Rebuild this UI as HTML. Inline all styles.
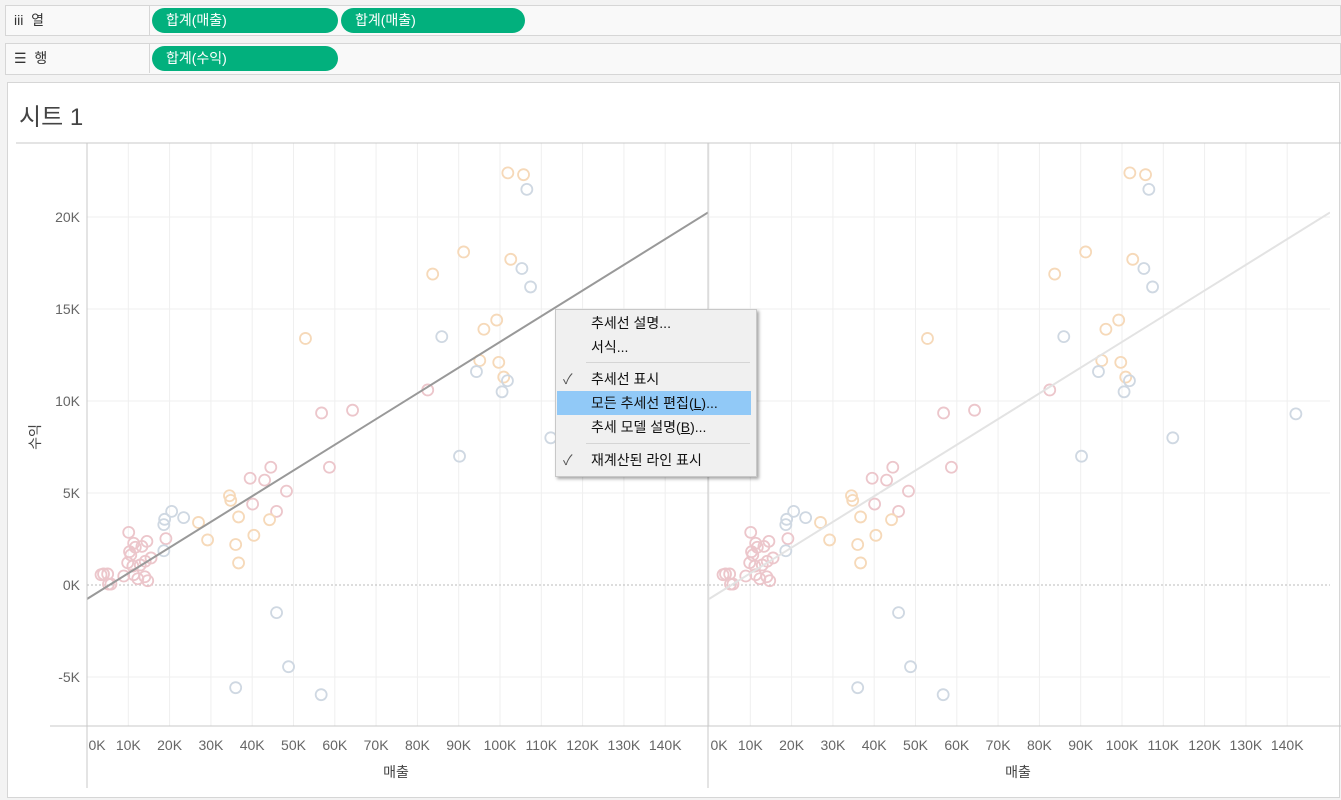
<!DOCTYPE html>
<html><head><meta charset="utf-8">
<style>
body{margin:0;width:1341px;height:800px;background:#f3f3f3;font-family:"Liberation Sans","Noto Sans CJK KR",sans-serif;position:relative;overflow:hidden}
.shelf{position:absolute;left:5px;width:1336px;height:31px;background:#f9f9f9;border:1px solid #d6d6d6;box-sizing:border-box}
.shelf .lbl{position:absolute;left:0;top:0;width:144px;height:29px;border-right:1px solid #d6d6d6;font-size:14px;color:#333;line-height:29px;padding-left:8px;box-sizing:border-box}
.pill{position:absolute;top:2px;height:25px;border-radius:13px;background:#02b07d;color:#fff;font-size:14px;line-height:24px;padding-left:14px;box-sizing:border-box}
#sheet{position:absolute;left:7px;top:82px;width:1333px;height:716px;background:#fff;border:1px solid #d6d6d6;box-sizing:border-box}
#title{position:absolute;left:19px;top:97px;font-size:24px;color:#444}
#menu{position:absolute;left:555px;top:309px;width:200px;height:166px;background:#f0f0f0;border:1px solid #c8c8c8;box-shadow:2px 2px 3px rgba(0,0,0,.35);font-size:14px;color:#111}
#menu .it{position:absolute;left:1px;width:194px;height:24px;line-height:24px;padding-left:34px;box-sizing:border-box}
#menu .chk{position:absolute;left:6px;color:#555}
#menu .sep{position:absolute;left:30px;width:164px;height:1px;background:#d5d5d5}
</style></head><body>
<div class="shelf" style="top:5px">
 <div class="lbl">iii&nbsp; 열</div>
 <div class="pill" style="left:146px;width:186px">합계(매출)</div>
 <div class="pill" style="left:335px;width:184px">합계(매출)</div>
</div>
<div class="shelf" style="top:43px;height:32px">
 <div class="lbl">☰&nbsp; 행</div>
 <div class="pill" style="left:146px;width:186px">합계(수익)</div>
</div>
<div id="sheet"></div>
<div id="title">시트 1</div>
<svg id="chart" width="1341" height="800" style="position:absolute;left:0;top:0"></svg>
<div id="menu">
 <div class="it" style="top:1px">추세선 설명...</div>
 <div class="it" style="top:25px">서식...</div>
 <div class="sep" style="top:52px"></div>
 <div class="it" style="top:57px"><span class="chk">✓</span>추세선 표시</div>
 <div class="it" style="top:81px;background:#91c9f7">모든 추세선 편집(<u>L</u>)...</div>
 <div class="it" style="top:105px">추세 모델 설명(<u>B</u>)...</div>
 <div class="sep" style="top:133px"></div>
 <div class="it" style="top:138px"><span class="chk">✓</span>재계산된 라인 표시</div>
</div>
<script>
const xTicks=[0,10,20,30,40,50,60,70,80,90,100,110,120,130,140];
const yTicks=[-5,0,5,10,15,20];
const trend=[-0.76,0.1397];
const catPink=[[58.7,6.4],[44.5,6.4],[39.5,5.8],[43.0,5.7],[48.3,5.1],[40.1,4.4],[45.9,4.0],[19.1,2.52],[10.1,2.86],[14.5,2.37],[11.3,2.27],[11.7,2.05],[13.3,2.1],[10.3,1.81],[10.6,1.63],[15.5,1.47],[14.1,1.29],[9.85,1.21],[11.1,1.03],[12.9,1.09],[8.9,0.49],[11.3,0.56],[14.0,0.45],[12.3,0.34],[14.7,0.23],[4.0,0.6],[5.0,0.6],[5.2,0.05],[5.8,0.05],[3.4,0.56],[82.5,10.6],[56.8,9.35],[64.3,9.5]];
const catOrange=[[101.9,22.4],[105.7,22.3],[91.2,18.1],[83.7,16.9],[102.6,17.7],[52.9,13.4],[99.2,14.4],[96.1,13.9],[95.1,12.2],[99.7,12.1],[100.9,11.3],[34.5,4.85],[34.8,4.6],[36.7,3.7],[44.2,3.55],[27.0,3.4],[29.2,2.45],[36.0,2.2],[40.4,2.7],[36.7,1.2]];
const catBlue=[[106.5,21.5],[105.3,17.2],[107.4,16.2],[85.9,13.5],[94.3,11.6],[101.8,11.1],[100.5,10.5],[142.1,9.3],[112.3,8.0],[90.2,7.0],[20.5,4.0],[23.4,3.66],[18.8,3.57],[18.6,3.28],[18.6,1.86],[45.9,-1.5],[48.8,-4.44],[36.0,-5.58],[56.7,-5.96]];
const svg=document.getElementById('chart');const NS='http://www.w3.org/2000/svg';
function mk(t,a){const e=document.createElementNS(NS,t);for(const k in a)e.setAttribute(k,a[k]);svg.appendChild(e);return e;}
const panes=[87,709];const W=621,TOP=143,BOT=726;
function xs(p,v){return p+v*4.13;}
function ys(v){return 585-v*18.4;}
panes.forEach((p,pi)=>{
 const cp='clip'+pi;const d=mk('clipPath',{id:cp});const r=document.createElementNS(NS,'rect');r.setAttribute('x',p);r.setAttribute('y',TOP);r.setAttribute('width',W);r.setAttribute('height',BOT-TOP);d.appendChild(r);
 xTicks.forEach(t=>{const l=mk('line',{x1:xs(p,t),x2:xs(p,t),y1:TOP,y2:BOT,stroke:'#efefef'});
  
  
  const tx=mk('text',{x:t===0?p+10:xs(p,t),y:750,'text-anchor':'middle','font-size':14,fill:'#666'});tx.textContent=t+'K';
  
  });
 yTicks.forEach(t=>{if(t===0)return;const l=mk('line',{x1:p,x2:p+W,y1:ys(t),y2:ys(t),stroke:'#efefef'});
  
  });
 const z=mk('line',{x1:p,x2:p+W,y1:ys(0),y2:ys(0),stroke:'#bbb','stroke-dasharray':'2,2'});
 
 
 [[catPink,'#ecc6cb'],[catOrange,'#f6d9b9'],[catBlue,'#cfd8e2']].forEach(([arr,c])=>arr.forEach(d=>{
  const ci=mk('circle',{cx:xs(p,d[0]),cy:ys(d[1]),r:5.5,fill:'none',stroke:c,'stroke-width':1.8,'clip-path':'url(#'+cp+')'});
  
  }));
 const tl=mk('line',{x1:p,y1:ys(trend[0]),x2:p+W,y2:ys(trend[0]+trend[1]*W/4.13),stroke:pi?'#e3e3e3':'#999','stroke-width':2,'clip-path':'url(#'+cp+')'});
 
 
 const xt=mk('text',{x:p+309,y:777,'text-anchor':'middle','font-size':14,fill:'#444'});xt.textContent='매출';
 
 
});
yTicks.forEach(t=>{const tx=mk('text',{x:80,y:ys(t)+5,'text-anchor':'end','font-size':14,fill:'#666'});tx.textContent=t+'K';
 
 });
const yt=mk('text',{x:0,y:0,transform:'translate(40,437) rotate(-90)','text-anchor':'middle','font-size':14,fill:'#444'});yt.textContent='수익';


[[16,143,1341,143],[87,143,87,788],[708,143,708,788],[50,726,1341,726]].forEach(a=>{const l=mk('line',{x1:a[0],y1:a[1],x2:a[2],y2:a[3],stroke:'#c8c8c8'});
 
 });
</script>
</body></html>
